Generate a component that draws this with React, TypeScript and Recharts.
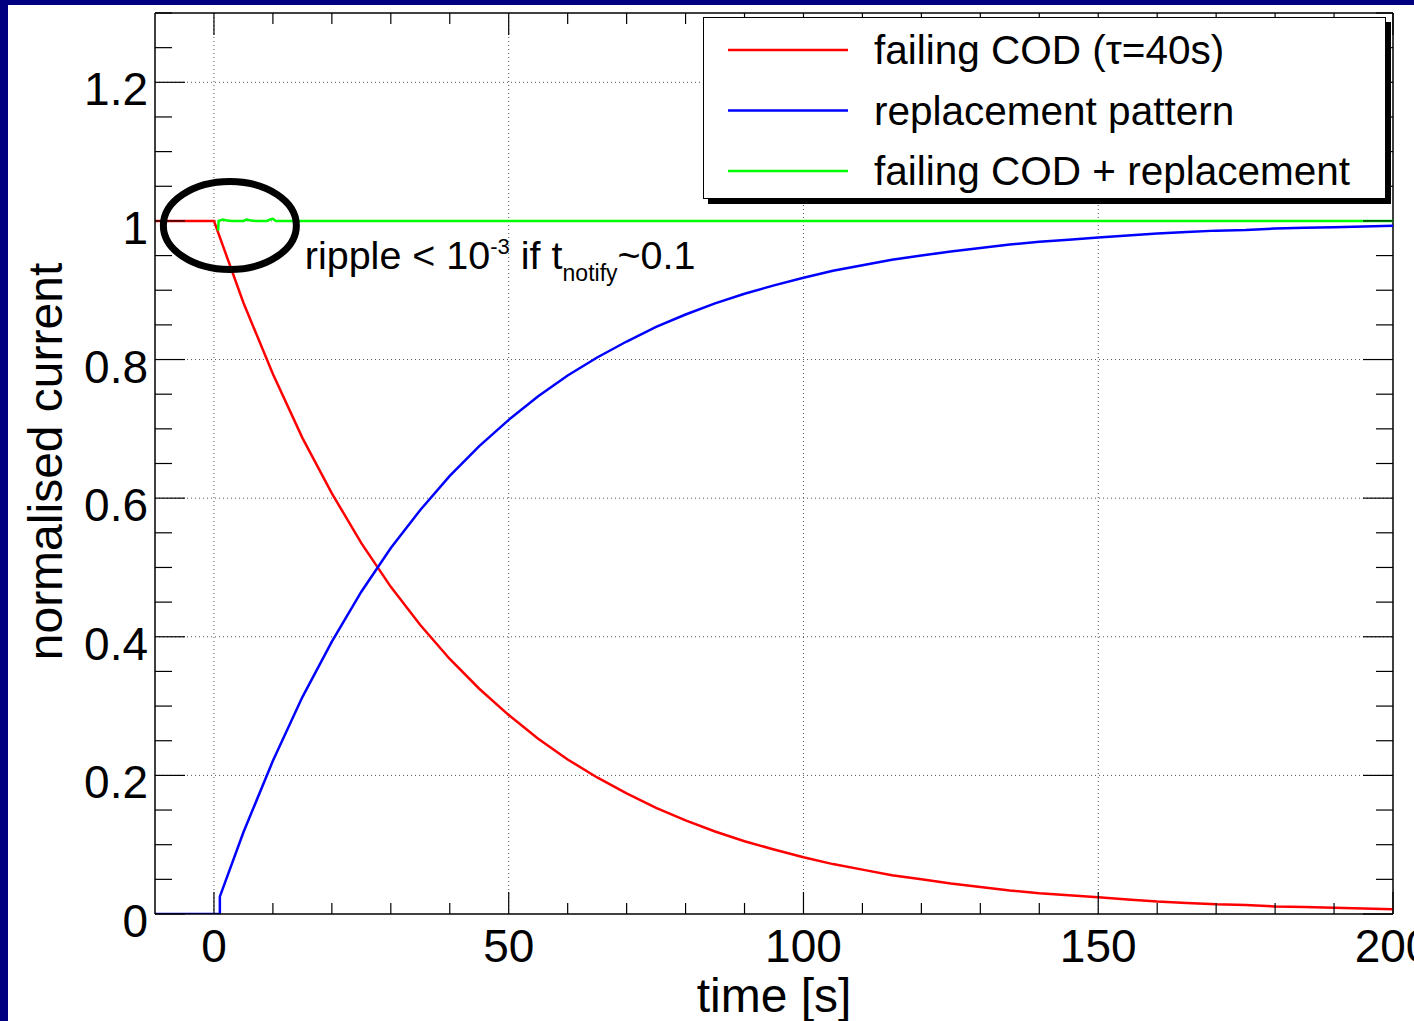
import React from "react";
import {
  LineChart,
  Line,
  XAxis,
  YAxis,
  ReferenceLine,
  ReferenceDot,
  Legend,
  Label,
} from "recharts";

// ---------- data ----------
const RED_T = [-10, 0, 5, 10, 15, 20, 25, 30, 35, 40, 45, 50, 55, 60, 65, 70, 75, 80, 85, 90, 95, 100, 105, 110, 115, 120, 125, 130, 135, 140, 145, 150, 155, 160, 165, 170, 175, 180, 185, 190, 195, 200];
const RED_V = [1, 1, 0.882, 0.779, 0.687, 0.607, 0.535, 0.472, 0.417, 0.368, 0.325, 0.287, 0.253, 0.223, 0.197, 0.174, 0.153, 0.135, 0.119, 0.105, 0.093, 0.082, 0.072, 0.064, 0.056, 0.05, 0.044, 0.039, 0.034, 0.03, 0.027, 0.024, 0.021, 0.018, 0.016, 0.014, 0.013, 0.011, 0.01, 0.009, 0.008, 0.007];

const BLUE_T = [-10, 1, 1, 5, 10, 15, 20, 25, 30, 35, 40, 45, 50, 55, 60, 65, 70, 75, 80, 85, 90, 95, 100, 105, 110, 115, 120, 125, 130, 135, 140, 145, 150, 155, 160, 165, 170, 175, 180, 185, 190, 195, 200];
const BLUE_V = [0, 0, 0.025, 0.118, 0.221, 0.313, 0.393, 0.465, 0.528, 0.583, 0.632, 0.675, 0.713, 0.747, 0.777, 0.803, 0.826, 0.847, 0.865, 0.881, 0.895, 0.907, 0.918, 0.928, 0.936, 0.944, 0.95, 0.956, 0.961, 0.966, 0.97, 0.973, 0.976, 0.979, 0.982, 0.984, 0.986, 0.987, 0.989, 0.99, 0.991, 0.992, 0.993];

const GREEN_T = [0.7, 0.8, 1.5, 2, 3, 5, 5.5, 6, 7, 9, 9.5, 10, 10.5, 50, 100, 150, 200];
const GREEN_V = [0.986, 1, 1.002, 1.001, 1, 1, 1.002, 1.001, 1, 1, 1.002, 1.003, 1, 1, 1, 1, 1];

const SERIES_NAMES = ["failing COD (τ=40s)", "replacement pattern", "failing COD + replacement"];
const SERIES_COLORS = ["#ff0000", "#0000ff", "#00ff00"];

const X_TICKS = [0, 10, 20, 30, 40, 50, 60, 70, 80, 90, 100, 110, 120, 130, 140, 150, 160, 170, 180, 190, 200];
const X_MAJOR = [0, 50, 100, 150, 200];
const Y_TICKS = [0, 0.05, 0.1, 0.15, 0.2, 0.25, 0.3, 0.35, 0.4, 0.45, 0.5, 0.55, 0.6, 0.65, 0.7, 0.75, 0.8, 0.85, 0.9, 0.95, 1, 1.05, 1.1, 1.15, 1.2, 1.25, 1.3];
const Y_MAJOR = [0, 0.2, 0.4, 0.6, 0.8, 1, 1.2];
const GRID_X = [0, 50, 100, 150];
const GRID_Y = [0.2, 0.4, 0.6, 0.8, 1, 1.2];

const ELLIPSE_AT = { t: 2.7, v: 0.9935 };
const NOTE_AT = { t: 15.4, v: 0.931 };

const zip = (ts: number[], vs: number[]) => ts.map((t, i) => ({ t, v: vs[i] }));
const redData = zip(RED_T, RED_V);
const blueData = zip(BLUE_T, BLUE_V);
const greenData = zip(GREEN_T, GREEN_V);

// ---------- layout ----------
const W = 1414;
const H = 1021;
const M = { top: 13, right: 21, bottom: 67, left: 95 };
const Y_AXIS_W = 60;
const X_AXIS_H = 40;
const PLOT_W = W - M.left - Y_AXIS_W - M.right;
const PLOT_H = H - M.top - M.bottom - X_AXIS_H;
const FONT = "'Liberation Sans', Arial, Helvetica, sans-serif";

const near = (a: number, list: number[]) => list.some((b) => Math.abs(a - b) < 1e-6);

const YTick = (props: any) => {
  const { x, y, payload } = props;
  const v = payload.value;
  const major = near(v, Y_MAJOR);
  const len = major ? 30 : 17;
  return (
    <g>
      <line x1={x} x2={x + len} y1={y} y2={y} stroke="#000" strokeWidth={1.2} />
      <line x1={x + PLOT_W} x2={x + PLOT_W - len} y1={y} y2={y} stroke="#000" strokeWidth={1.2} />
      {major && (
        <text x={x - 7} y={y + 23} textAnchor="end" fontSize={46} fontFamily={FONT} fill="#000">
          {String(Math.round(v * 10) / 10)}
        </text>
      )}
    </g>
  );
};

const XTick = (props: any) => {
  const { x, y, payload } = props;
  const v = payload.value;
  const major = near(v, X_MAJOR);
  const len = major ? 22 : 11;
  return (
    <g>
      <line x1={x} x2={x} y1={y} y2={y - len} stroke="#000" strokeWidth={1.2} />
      <line x1={x} x2={x} y1={y - PLOT_H} y2={y - PLOT_H + len} stroke="#000" strokeWidth={1.2} />
      {major && (
        <text x={x} y={y + 48} textAnchor="middle" fontSize={46} fontFamily={FONT} fill="#000">
          {String(v)}
        </text>
      )}
    </g>
  );
};

const LegendBox = (props: any) => {
  const items = [...(props.payload || [])].sort(
    (a: any, b: any) => SERIES_NAMES.indexOf(a.value) - SERIES_NAMES.indexOf(b.value)
  );
  return (
    <div
      style={{
        width: 683,
        height: 182,
        boxSizing: "border-box",
        background: "#fff",
        border: "1.5px solid #000",
        boxShadow: "5px 5px 0 #000",
        position: "relative",
        fontFamily: FONT,
      }}
    >
      <svg width={683} height={182} style={{ position: "absolute", left: 0, top: 0 }}>
        {items.map((p: any, i: number) => {
          const cy = 32 + i * 60.5;
          return (
            <g key={i}>
              <line x1={24} x2={144} y1={cy} y2={cy} stroke={p.color} strokeWidth={2.5} />
              <text x={170} y={cy + 14} fontSize={40.5} fontFamily={FONT} fill="#000">
                {p.value}
              </text>
            </g>
          );
        })}
      </svg>
    </div>
  );
};

const EllipseShape = (p: any) => (
  <ellipse cx={p.cx} cy={p.cy} rx={66.5} ry={44} fill="none" stroke="#000" strokeWidth={7} />
);

const NoteShape = (p: any) => (
  <text x={p.cx} y={p.cy} fontSize={39.5} fontFamily={FONT} fill="#000">
    <tspan>ripple &lt; 10</tspan>
    <tspan fontSize={22} dy={-15}>-3</tspan>
    <tspan dy={15}> if t</tspan>
    <tspan fontSize={23} dy={12}>notify</tspan>
    <tspan dy={-12}>~0.1</tspan>
  </text>
);

export default function App() {
  return (
    <div style={{ position: "fixed", left: 0, top: 0, width: W, height: H, background: "#000080", overflow: "hidden" }}>
      <div style={{ position: "absolute", left: 8, top: 5, width: W - 8, height: H - 5, background: "#fff" }} />
      <div style={{ position: "absolute", left: 0, top: 0 }}>
        <LineChart width={W} height={H} margin={M}>
          <XAxis
            dataKey="t"
            type="number"
            domain={[-10, 200]}
            ticks={X_TICKS}
            interval={0}
            tickSize={0}
            tickMargin={0}
            tickLine={false}
            height={X_AXIS_H}
            axisLine={{ stroke: "#000", strokeWidth: 1.5 }}
            tick={<XTick />}
            allowDataOverflow
          >
            <Label
              content={(lp: any) => {
                const vb = lp.viewBox;
                return (
                  <text x={vb.x + vb.width / 2} y={vb.y + 98} textAnchor="middle" fontSize={48} fontFamily={FONT} fill="#000">
                    time [s]
                  </text>
                );
              }}
            />
          </XAxis>
          <YAxis
            type="number"
            domain={[0, 1.3]}
            ticks={Y_TICKS}
            interval={0}
            tickSize={0}
            tickMargin={0}
            tickLine={false}
            width={Y_AXIS_W}
            axisLine={{ stroke: "#000", strokeWidth: 1.5 }}
            tick={<YTick />}
            allowDataOverflow
          >
            <Label
              content={(lp: any) => {
                const vb = lp.viewBox;
                const cx = vb.x - 33;
                const cy = vb.y + vb.height / 2 - 2;
                return (
                  <text
                    x={cx}
                    y={cy}
                    textAnchor="middle"
                    fontSize={48}
                    fontFamily={FONT}
                    fill="#000"
                    transform={`rotate(-90 ${cx} ${cy})`}
                  >
                    normalised current
                  </text>
                );
              }}
            />
          </YAxis>
          {GRID_X.map((g) => (
            <ReferenceLine key={"gx" + g} x={g} stroke="#555" strokeDasharray="1 3" strokeWidth={1} />
          ))}
          {GRID_Y.map((g) => (
            <ReferenceLine key={"gy" + g} y={g} stroke="#555" strokeDasharray="1 3" strokeWidth={1} />
          ))}
          <ReferenceLine y={1.3} stroke="#000" strokeWidth={1.5} />
          <ReferenceLine x={200} stroke="#000" strokeWidth={1.5} />
          <Line data={redData} dataKey="v" name={SERIES_NAMES[0]} stroke={SERIES_COLORS[0]} strokeWidth={2.5} dot={false} isAnimationActive={false} type="linear" />
          <Line data={blueData} dataKey="v" name={SERIES_NAMES[1]} stroke={SERIES_COLORS[1]} strokeWidth={2.5} dot={false} isAnimationActive={false} type="linear" />
          <Line data={greenData} dataKey="v" name={SERIES_NAMES[2]} stroke={SERIES_COLORS[2]} strokeWidth={2.5} dot={false} isAnimationActive={false} type="linear" />
          <ReferenceDot x={ELLIPSE_AT.t} y={ELLIPSE_AT.v} r={1} shape={EllipseShape} />
          <ReferenceDot x={NOTE_AT.t} y={NOTE_AT.v} r={1} shape={NoteShape} />
          <Legend
            layout="vertical"
            align="center"
            verticalAlign="middle"
            content={<LegendBox />}
            wrapperStyle={{ position: "absolute", left: 703, top: 17, width: 683, height: 182, right: "auto", bottom: "auto" }}
          />
        </LineChart>
      </div>
    </div>
  );
}
